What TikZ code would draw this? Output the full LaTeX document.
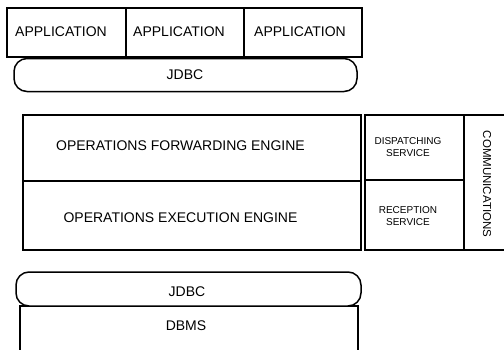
\documentclass[tikz,border=0pt]{standalone}
\usepackage{fontspec}
\setmainfont{Liberation Sans}
\begin{document}
\begin{tikzpicture}[x=1pt,y=-1pt,
  box/.style={draw,line width=1.5pt,rectangle,inner sep=0pt},
  pill/.style={draw,line width=1.5pt,rectangle,rounded corners=13pt,inner sep=0pt},
  big/.style={font=\fontsize{14}{16}\selectfont,inner sep=0pt},
  small/.style={font=\fontsize{10}{12}\selectfont,inner sep=0pt,align=center}]
\useasboundingbox (0,0) rectangle (504,349);
\clip (0,0) rectangle (504,349);
% applications
\node[box,minimum width=119pt,minimum height=49pt] (app1) at (66.5,32.5) {};
\node[box,minimum width=118pt,minimum height=49pt] (app2) at (185,32.5) {};
\node[box,minimum width=118pt,minimum height=49pt] (app3) at (303,32.5) {};
\node[big] (t1) at (61,32) {APPLICATION};
\node[big] (t2) at (179,32) {APPLICATION};
\node[big] (t3) at (300,32) {APPLICATION};
% top JDBC
\node[pill,minimum width=343pt,minimum height=33pt] (jdbc1) at (185.5,75) {};
\node[big] (tj1) at (185,75) {JDBC};
% engines
\node[box,minimum width=338pt,minimum height=66pt] (fwd) at (192,148) {};
\node[box,minimum width=338pt,minimum height=69pt] (exe) at (192,215.5) {};
\node[big] (tf) at (180.5,146) {OPERATIONS FORWARDING ENGINE};
\node[big] (te) at (180.5,217.5) {OPERATIONS EXECUTION ENGINE};
% services
\node[box,minimum width=99pt,minimum height=65pt] (disp) at (414.5,147.5) {};
\node[box,minimum width=99pt,minimum height=70pt] (rec) at (414.5,215) {};
\node[small] (td) at (408,147.5) {DISPATCHING\\SERVICE};
\node[small] (tr) at (408,216) {RECEPTION\\SERVICE};
% communications
\node[box,minimum width=60pt,minimum height=135pt] (comm) at (494,182.5) {};
\node[small,rotate=-90,font=\fontsize{11.5}{13}\selectfont] (tc) at (487,184) {COMMUNICATIONS};
% bottom JDBC and DBMS
\node[box,minimum width=338pt,minimum height=60pt] (dbms) at (189,336) {};
\node[pill,fill=white,minimum width=345pt,minimum height=34pt] (jdbc2) at (188.5,289) {};
\node[big] (tj2) at (187,292) {JDBC};
\node[big] (tdb) at (186,325.5) {DBMS};
\end{tikzpicture}
\end{document}
